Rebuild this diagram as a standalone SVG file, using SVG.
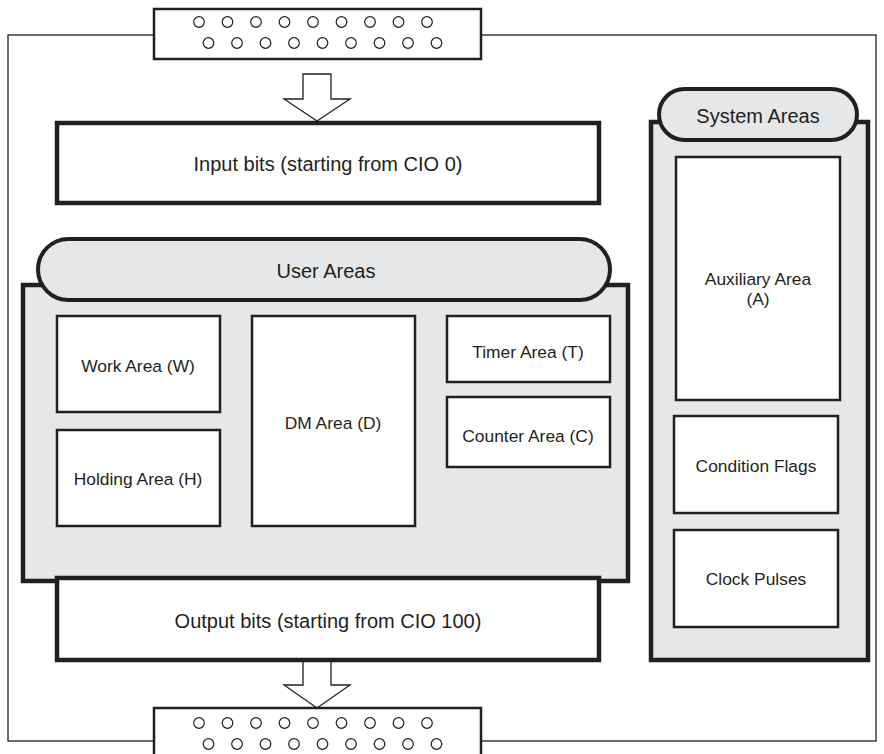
<svg xmlns="http://www.w3.org/2000/svg" width="884" height="754" viewBox="0 0 884 754">
<style>
.frame{fill:none;stroke:#231f20;stroke-width:1.3}
.conn{fill:#fff;stroke:#231f20;stroke-width:2.5}
.pin{fill:#fff;stroke:#231f20;stroke-width:1.2}
.arrow{fill:#fff;stroke:#231f20;stroke-width:1.3;stroke-linejoin:miter}
.big{fill:#fff;stroke:#231f20;stroke-width:4.5}
.panel{fill:#e6e7e8;stroke:#231f20;stroke-width:4.5}
.pill{fill:#e6e7e8;stroke:#231f20;stroke-width:4}
.box{fill:#fff;stroke:#231f20;stroke-width:2.5}
text{font-family:"Liberation Sans",Arial,sans-serif;font-size:17.4px;fill:#231f20;text-anchor:middle}
text.lg{font-size:20px}
</style>
<defs>
<g id="pins">
<circle class="pin" cx="0" cy="0" r="5.3"/><circle class="pin" cx="28.5" cy="0" r="5.3"/><circle class="pin" cx="57" cy="0" r="5.3"/><circle class="pin" cx="85.5" cy="0" r="5.3"/><circle class="pin" cx="114" cy="0" r="5.3"/><circle class="pin" cx="142.5" cy="0" r="5.3"/><circle class="pin" cx="171" cy="0" r="5.3"/><circle class="pin" cx="199.5" cy="0" r="5.3"/><circle class="pin" cx="228" cy="0" r="5.3"/>
<circle class="pin" cx="9.5" cy="21" r="5.3"/><circle class="pin" cx="38" cy="21" r="5.3"/><circle class="pin" cx="66.5" cy="21" r="5.3"/><circle class="pin" cx="95" cy="21" r="5.3"/><circle class="pin" cx="123.5" cy="21" r="5.3"/><circle class="pin" cx="152" cy="21" r="5.3"/><circle class="pin" cx="180.5" cy="21" r="5.3"/><circle class="pin" cx="209" cy="21" r="5.3"/><circle class="pin" cx="237.5" cy="21" r="5.3"/>
</g>
</defs>
<rect width="884" height="754" fill="#fff"/>
<g id="connectors">
<rect class="frame" x="8" y="35" width="868" height="706"/>
<path class="arrow" d="M303,74 H331 V99 H350 L317,121 L284,99 H303 Z"/>
<path class="arrow" d="M303,660 H331 V685 H350 L317,708 L284,685 H303 Z"/>
</g>
<g id="input-connector">
<rect class="conn" x="154" y="9" width="327" height="50"/>
<use href="#pins" x="199" y="22"/>
</g>
<g id="output-connector">
<rect class="conn" x="154" y="708" width="327" height="60"/>
<use href="#pins" x="199" y="723"/>
</g>
<g id="input-bits">
<rect class="big" x="57" y="123" width="542" height="80"/>
<text class="lg" x="328" y="171">Input bits (starting from CIO 0)</text>
</g>
<g id="user-areas">
<rect class="panel" x="23" y="285" width="605" height="296"/>
<rect class="pill" x="38" y="239" width="572" height="61" rx="30.5"/>
<text class="lg" x="326" y="278">User Areas</text>
</g>
<g id="work-area">
<rect class="box" x="57" y="316" width="163" height="96"/>
<text x="138" y="372">Work Area (W)</text>
</g>
<g id="holding-area">
<rect class="box" x="57" y="430" width="163" height="96"/>
<text x="138" y="485">Holding Area (H)</text>
</g>
<g id="dm-area">
<rect class="box" x="252" y="316" width="163" height="210"/>
<text x="333" y="429">DM Area (D)</text>
</g>
<g id="timer-area">
<rect class="box" x="447" y="316" width="163" height="66"/>
<text x="528" y="358">Timer Area (T)</text>
</g>
<g id="counter-area">
<rect class="box" x="447" y="397" width="163" height="70"/>
<text x="528" y="442">Counter Area (C)</text>
</g>
<g id="output-bits">
<rect class="big" x="57" y="578" width="542" height="82"/>
<text class="lg" x="328" y="628">Output bits (starting from CIO 100)</text>
</g>
<g id="system-areas">
<rect class="panel" x="651" y="122" width="217" height="538"/>
<rect class="pill" x="659" y="89" width="198" height="51" rx="25.5"/>
<text class="lg" x="758" y="123">System Areas</text>
</g>
<g id="auxiliary-area">
<rect class="box" x="676" y="157" width="164" height="243"/>
<text x="758" y="285">Auxiliary Area</text>
<text x="758" y="305">(A)</text>
</g>
<g id="condition-flags">
<rect class="box" x="674" y="416" width="164" height="97"/>
<text x="756" y="472">Condition Flags</text>
</g>
<g id="clock-pulses">
<rect class="box" x="674" y="530" width="164" height="97"/>
<text x="756" y="585">Clock Pulses</text>
</g>
</svg>
